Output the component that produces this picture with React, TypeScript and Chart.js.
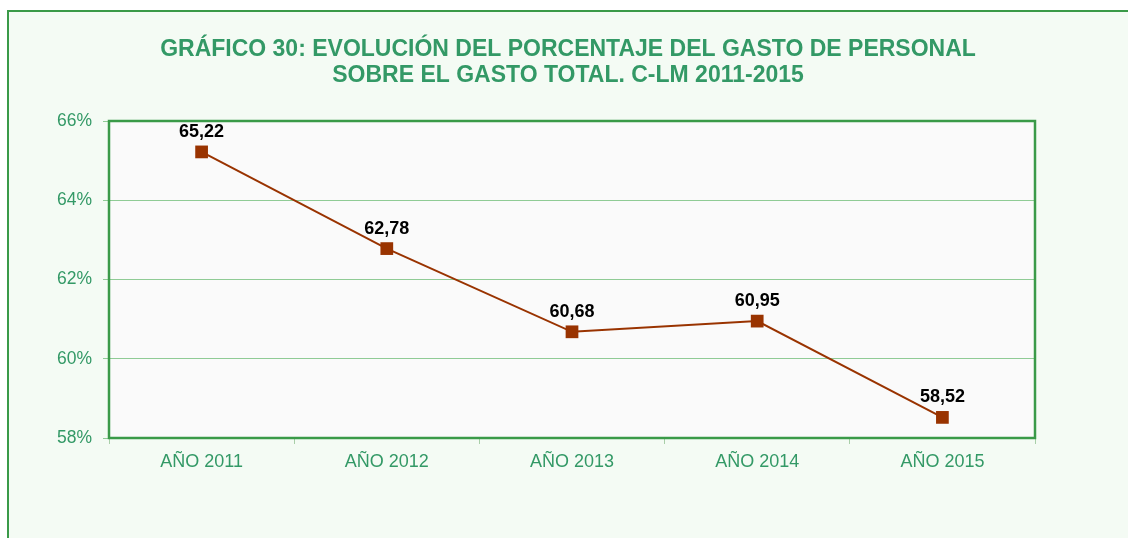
import React, { useEffect, useRef } from "react";
import { Chart, registerables } from "chart.js";

Chart.register(...registerables);

const categories = ["AÑO 2011", "AÑO 2012", "AÑO 2013", "AÑO 2014", "AÑO 2015"];
const values = [65.22, 62.78, 60.68, 60.95, 58.52];
const titleLines = [
  "GRÁFICO 30: EVOLUCIÓN DEL PORCENTAJE DEL GASTO DE PERSONAL",
  "SOBRE EL GASTO TOTAL. C-LM 2011-2015",
];
const yMin = 58;
const yMax = 66;
const yStep = 2;

const FONT = '"Liberation Sans", Arial, sans-serif';
const GREEN_TEXT = "#339966";
const GREEN_BORDER = "#3A9A48";
const GRID = "#8FCB95";
const OUTER_BG = "#F4FBF4";
const PLOT_BG = "#FAFAFA";
const LINE = "#993300";

const framePlugin = {
  id: "frame",
  beforeDraw(chart: any) {
    const { ctx, width, height, chartArea } = chart;
    ctx.save();
    ctx.fillStyle = "#FFFFFF";
    ctx.fillRect(0, 0, width, height);
    ctx.fillStyle = OUTER_BG;
    ctx.fillRect(7, 10, width, height);
    ctx.strokeStyle = GREEN_BORDER;
    ctx.lineWidth = 2;
    ctx.strokeRect(8, 11, width + 10, height + 10);
    ctx.fillStyle = PLOT_BG;
    ctx.fillRect(chartArea.left, chartArea.top, chartArea.right - chartArea.left, chartArea.bottom - chartArea.top);
    ctx.fillStyle = GREEN_TEXT;
    ctx.font = `bold 23px ${FONT}`;
    ctx.textAlign = "center";
    ctx.textBaseline = "middle";
    ctx.fillText(titleLines[0], 568, 50);
    ctx.fillText(titleLines[1], 568, 76);
    ctx.restore();
  },
  beforeDatasetsDraw(chart: any) {
    const { ctx, chartArea } = chart;
    ctx.save();
    ctx.strokeStyle = GREEN_BORDER;
    ctx.lineWidth = 2.5;
    ctx.strokeRect(chartArea.left, chartArea.top, chartArea.right - chartArea.left, chartArea.bottom - chartArea.top);
    ctx.restore();
  },
  afterDatasetsDraw(chart: any) {
    const { ctx } = chart;
    const meta = chart.getDatasetMeta(0);
    ctx.save();
    ctx.fillStyle = "#000000";
    ctx.font = `bold 18px ${FONT}`;
    ctx.textAlign = "center";
    ctx.textBaseline = "middle";
    meta.data.forEach((pt: any, i: number) => {
      const txt = values[i].toFixed(2).replace(".", ",");
      ctx.fillText(txt, pt.x, pt.y - 20);
    });
    ctx.restore();
  },
};

export default function App() {
  const ref = useRef<HTMLCanvasElement>(null);
  useEffect(() => {
    if (!ref.current) return;
    const chart = new Chart(ref.current, {
      type: "line",
      data: {
        labels: categories,
        datasets: [
          {
            data: values,
            borderColor: LINE,
            backgroundColor: LINE,
            borderWidth: 2,
            pointStyle: "rect",
            pointRadius: 9,
            pointHoverRadius: 9,
            pointBackgroundColor: LINE,
            pointBorderColor: LINE,
            pointBorderWidth: 0,
            tension: 0,
            fill: false,
          },
        ],
      },
      options: {
        animation: false,
        responsive: false,
        devicePixelRatio: 1,
        layout: { padding: { left: 0, top: 121, right: 93, bottom: 0 } },
        plugins: {
          legend: { display: false },
          title: { display: false },
          tooltip: { enabled: false },
        },
        scales: {
          x: {
            type: "category",
            offset: true,
            afterFit(scale: any) {
              scale.height = 100;
            },
            grid: {
              display: true,
              offset: true,
              drawOnChartArea: false,
              drawTicks: true,
              tickLength: 6,
              color: "#A9CFA9",
            },
            border: { display: false },
            ticks: {
              color: GREEN_TEXT,
              font: { family: FONT, size: 18 },
              padding: 7,
              maxRotation: 0,
            },
          },
          y: {
            min: yMin,
            max: yMax,
            afterFit(scale: any) {
              scale.width = 109;
            },
            grid: {
              color: GRID,
              lineWidth: 1,
              drawTicks: true,
              tickLength: 6,
            },
            border: { display: false },
            ticks: {
              stepSize: yStep,
              color: GREEN_TEXT,
              font: { family: FONT, size: 17.5 },
              padding: 11,
              callback: (v: any) => `${v}%`,
            },
          },
        },
      },
      plugins: [framePlugin],
    });
    return () => chart.destroy();
  }, []);
  return (
    <canvas
      ref={ref}
      width={1128}
      height={538}
      style={{ position: "fixed", left: 0, top: 0, width: 1128, height: 538 }}
    />
  );
}
